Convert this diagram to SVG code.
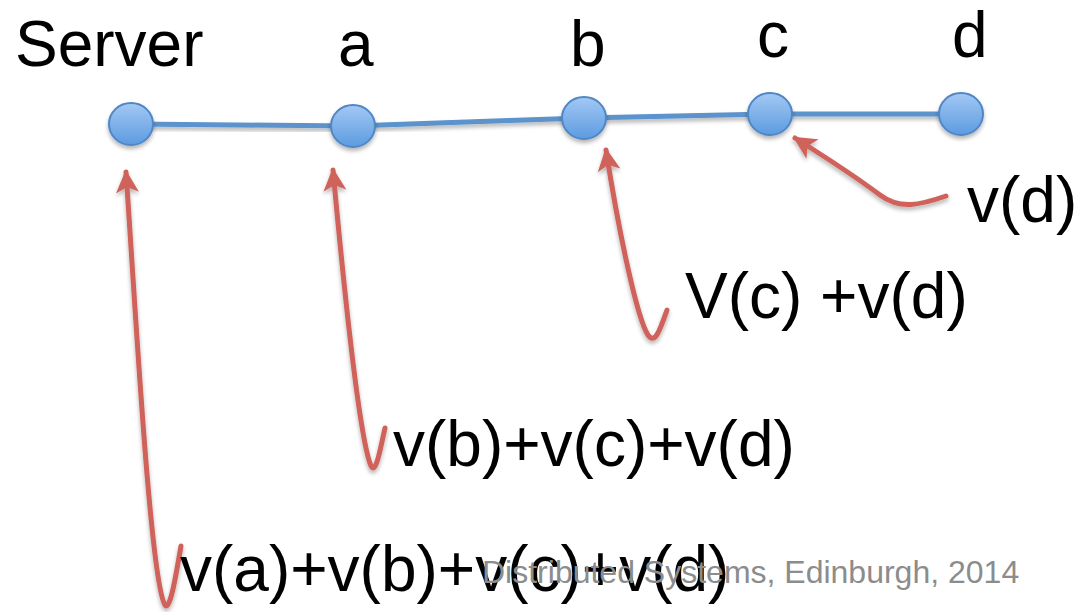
<svg xmlns="http://www.w3.org/2000/svg" width="1077" height="612" viewBox="0 0 1077 612">
<defs>
<linearGradient id="ng" x1="0" y1="0" x2="0" y2="1">
<stop offset="0" stop-color="#a3c8f4"/>
<stop offset="1" stop-color="#5c9be0"/>
</linearGradient>
<filter id="sh" x="-50%" y="-50%" width="200%" height="200%">
<feGaussianBlur in="SourceAlpha" stdDeviation="2"/>
<feOffset dy="3"/>
<feComponentTransfer><feFuncA type="linear" slope="0.3"/></feComponentTransfer>
<feMerge><feMergeNode/><feMergeNode in="SourceGraphic"/></feMerge>
</filter>
<marker id="ah" viewBox="0 0 10 10" refX="9" refY="5" markerWidth="4.6" markerHeight="4.6" orient="auto" markerUnits="strokeWidth">
<path d="M0,0 L10,5 L0,10 L2.5,5 Z" fill="#d0625b"/>
</marker>
<style>
.node{fill:url(#ng);stroke:#4f86c6;stroke-width:2;filter:url(#sh)}
.lbl{font-family:"Liberation Sans",Arial,sans-serif;font-size:64px;fill:#000}
.arr{fill:none;stroke:#d0625b;stroke-width:5;stroke-linecap:round;marker-end:url(#ah);filter:url(#sh)}
.foot{font-family:"Liberation Sans",Arial,sans-serif;font-size:32px;fill:#8c8c8c}
</style>
</defs>
<g id="edges">
<polyline points="131,124 353,126 584,118 770,114 961,114" fill="none" stroke="#5b93cc" stroke-width="5" filter="url(#sh)"/>
</g>
<g id="node-server"><ellipse class="node" cx="131" cy="124" rx="22" ry="21"/><text class="lbl" x="15" y="66">Server</text></g>
<g id="node-a"><ellipse class="node" cx="353" cy="126" rx="22" ry="21"/><text class="lbl" x="338" y="66">a</text></g>
<g id="node-b"><ellipse class="node" cx="584" cy="118" rx="22" ry="21"/><text class="lbl" x="570" y="66">b</text></g>
<g id="node-c"><ellipse class="node" cx="770" cy="114" rx="22" ry="21"/><text class="lbl" x="757" y="57">c</text></g>
<g id="node-d"><ellipse class="node" cx="961" cy="114" rx="22" ry="21"/><text class="lbl" x="952" y="57">d</text></g>
<g id="connectors">
<path class="arr" d="M181,546 C176,575 170,612 165,605 C150,580 135,300 126,172"/>
<path class="arr" d="M385,428 C380,450 376,475 371,466 C360,440 345,300 333,170"/>
<path class="arr" d="M667,310 C660,330 655,345 648,335 C638,320 620,240 606,150"/>
<path class="arr" d="M946,196 C920,205 900,210 880,195 C860,180 830,160 795,138"/>
</g>
<g id="labels">
<text class="lbl" x="967" y="222">v(d)</text>
<text class="lbl" x="685" y="318">V(c) +v(d)</text>
<text class="lbl" x="393" y="466">v(b)+v(c)+v(d)</text>
<text class="lbl" x="180" y="591">v(a)+v(b)+v(c)+v(d)</text>
<text class="foot" x="482" y="583">Distributed Systems, Edinburgh, 2014</text>
</g>
</svg>
